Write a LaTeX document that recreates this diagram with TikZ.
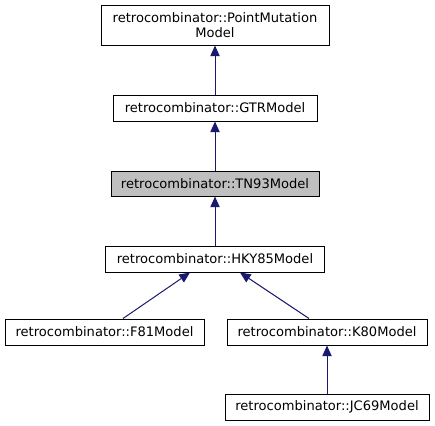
\documentclass[tikz,border=0pt]{standalone}
\usepackage{fontspec}
\setmainfont{DejaVu Sans}
\usetikzlibrary{arrows.meta, positioning, calc}
\definecolor{edgenavy}{HTML}{191970}
\definecolor{currentgray}{HTML}{BFBFBF}

\begin{document}
\begin{tikzpicture}[x=0.75pt, y=-0.75pt, font=\fontsize{9.8pt}{11.25pt}\selectfont,
    classbox/.style={draw=black, line width=0.75pt, fill=white, inner sep=0pt, align=center},
    inherit/.style={draw=edgenavy, line width=0.75pt, -{Triangle[length=8pt, width=7pt]}}]
    \useasboundingbox (0,0) rectangle (435,425);

    % Base class
    \node[classbox, minimum width=228*0.75pt, minimum height=40*0.75pt] (pointmut) at (215,25)
        {retrocombinator::PointMutation\\Model};

    % GTR
    \node[classbox, minimum width=204*0.75pt, minimum height=26*0.75pt] (gtr) at (215,108)
        {retrocombinator::GTRModel};

    % TN93 (current class)
    \node[classbox, fill=currentgray, minimum width=208*0.75pt, minimum height=25*0.75pt] (tn93) at (215,183.5)
        {retrocombinator::TN93Model};

    % HKY85
    \node[classbox, minimum width=219*0.75pt, minimum height=26*0.75pt] (hky85) at (215,259)
        {retrocombinator::HKY85Model};

    % F81 and K80
    \node[classbox, minimum width=199*0.75pt, minimum height=26*0.75pt] (f81) at (104.5,332)
        {retrocombinator::F81Model};
    \node[classbox, minimum width=200*0.75pt, minimum height=26*0.75pt] (k80) at (327,332)
        {retrocombinator::K80Model};

    % JC69
    \node[classbox, minimum width=204*0.75pt, minimum height=26*0.75pt] (jc69) at (327,407)
        {retrocombinator::JC69Model};

    % Inheritance arrows
    \draw[inherit] (gtr.north) -- (pointmut.south);
    \draw[inherit] (tn93.north) -- (gtr.south);
    \draw[inherit] (hky85.north) -- (tn93.south);
    \draw[inherit] ($(f81.north)+(18.5,0)$) -- ($(hky85.south)+(-25,0)$);
    \draw[inherit] ($(k80.north)+(-18,0)$) -- ($(hky85.south)+(25,0)$);
    \draw[inherit] (jc69.north) -- (k80.south);
\end{tikzpicture}
\end{document}
